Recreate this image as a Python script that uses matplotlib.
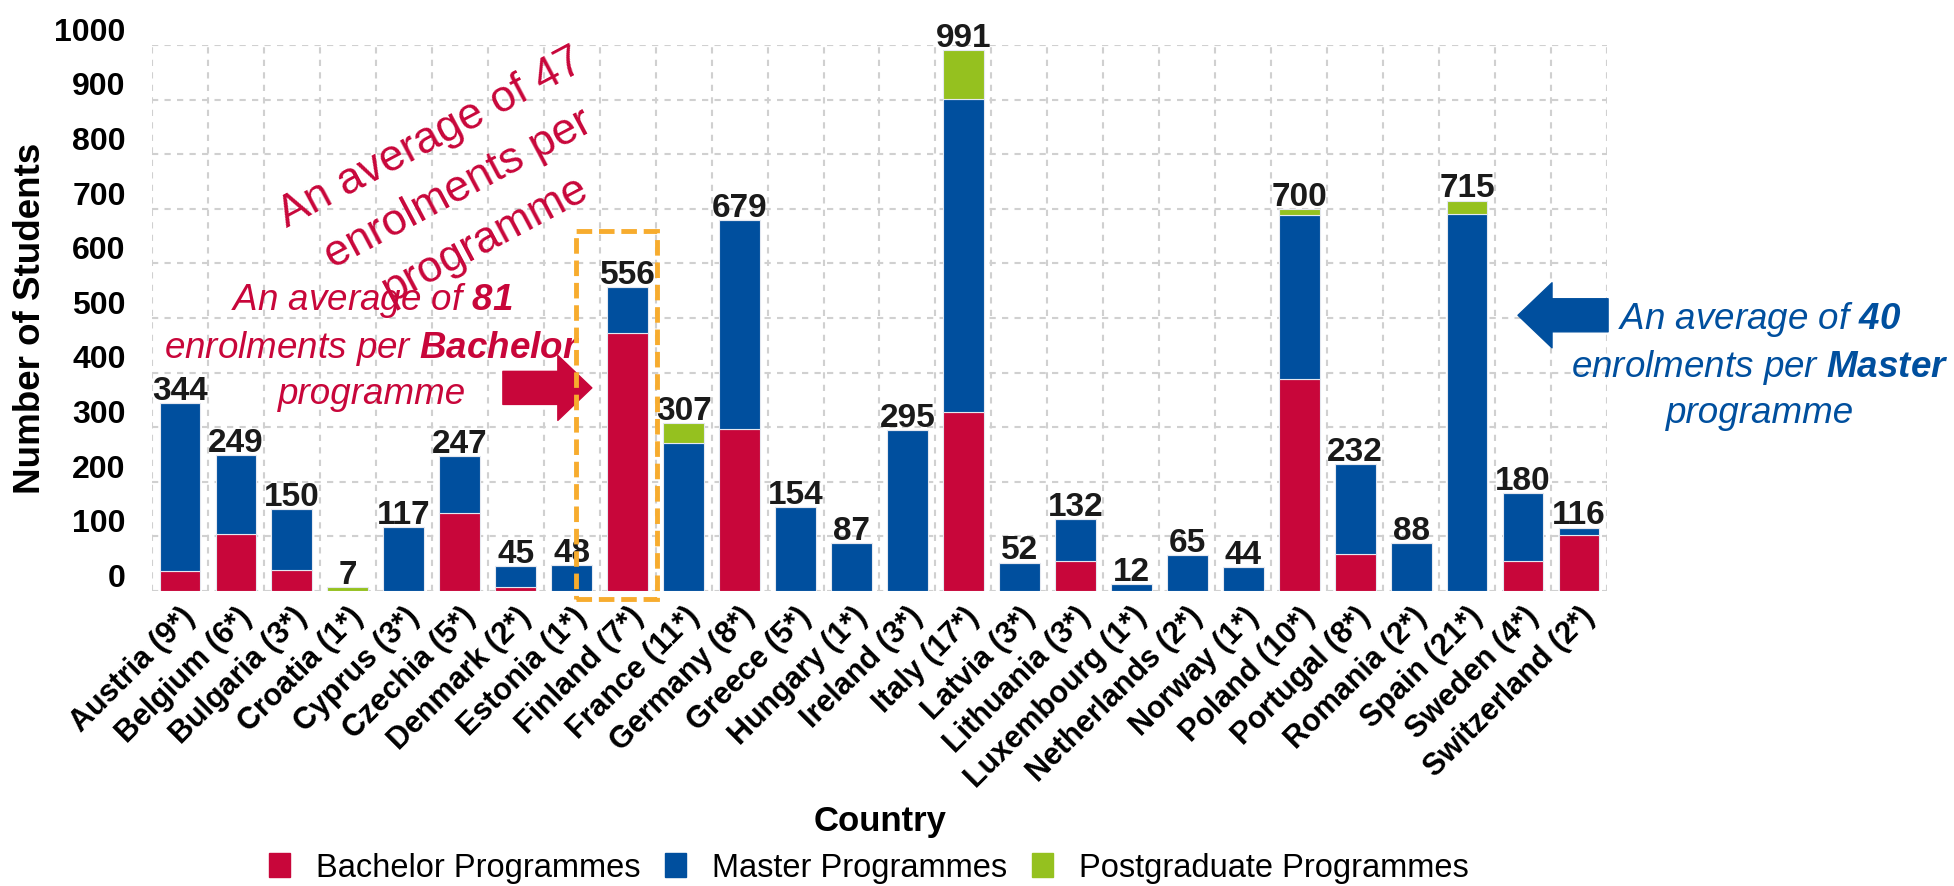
import matplotlib
matplotlib.use("Agg")
import matplotlib.pyplot as plt
import numpy as np
from matplotlib.patches import FancyArrowPatch, Rectangle, Patch
from matplotlib.transforms import ScaledTranslation

plt.rcParams['font.family'] = ['Liberation Sans', 'DejaVu Sans']
plt.rcParams['mathtext.fontset'] = 'custom'
plt.rcParams['mathtext.rm'] = 'Liberation Sans:italic'
plt.rcParams['mathtext.it'] = 'Liberation Sans:italic'
plt.rcParams['mathtext.bf'] = 'Liberation Sans:bold:italic'

# datos
countries = ["Austria (9*)", "Belgium (6*)", "Bulgaria (3*)", "Croatia (1*)", "Cyprus (3*)",
             "Czechia (5*)", "Denmark (2*)", "Estonia (1*)", "Finland (7*)", "France (11*)",
             "Germany (8*)", "Greece (5*)", "Hungary (1*)", "Ireland (3*)", "Italy (17*)",
             "Latvia (3*)", "Lithuania (3*)", "Luxembourg (1*)", "Netherlands (2*)", "Norway (1*)",
             "Poland (10*)", "Portugal (8*)", "Romania (2*)", "Spain (21*)", "Sweden (4*)",
             "Switzerland (2*)"]
bachelor = [36, 104, 39, 0, 0, 143, 8, 0, 472, 0, 296, 0, 0, 0, 327,
            0, 55, 0, 0, 0, 389, 67, 0, 0, 55, 102]
master = [308, 145, 111, 0, 117, 104, 37, 48, 84, 271, 383, 154, 87, 295, 575,
          52, 77, 12, 65, 44, 299, 165, 88, 690, 125, 14]
postgrad = [0, 0, 0, 7, 0, 0, 0, 0, 0, 36, 0, 0, 0, 0, 89,
            0, 0, 0, 0, 0, 12, 0, 0, 25, 0, 0]
totals = [344, 249, 150, 7, 117, 247, 45, 48, 556, 307, 679, 154, 87, 295, 991,
          52, 132, 12, 65, 44, 700, 232, 88, 715, 180, 116]

RED = '#C8063A'
BLUE = '#004F9E'
GREEN = '#95C11F'
ORANGE = '#F7AC2E'

fig = plt.figure(figsize=(19.54, 8.87), dpi=100)
ax = fig.add_axes([0.0778, 0.3326, 0.7446, 0.6155])

x = np.arange(len(countries))
b = np.array(bachelor)
m = np.array(master)
p = np.array(postgrad)
ax.bar(x, b, width=0.73, color=RED, edgecolor='#e4e8f0', linewidth=0.8, zorder=2)
ax.bar(x, m, width=0.73, bottom=b, color=BLUE, edgecolor='#e4e8f0', linewidth=0.8, zorder=2)
ax.bar(x, p, width=0.73, bottom=b + m, color=GREEN, edgecolor='#e4e8f0', linewidth=0.8, zorder=2)

for i, t in enumerate(totals):
    ax.annotate(str(t), xy=(i, t), xytext=(0, 3), textcoords='offset points',
                ha='center', va='baseline', fontsize=24, fontweight='bold', color='#1a1a1a')

ax.set_xlim(-0.5, len(countries) - 0.5)
ax.set_ylim(0, 1000)
ax.set_yticks(np.arange(0, 1001, 100))
ax.set_yticklabels([str(v) for v in range(0, 1001, 100)], fontsize=23, fontweight='bold')
ax.set_xticks(x)
ax.set_xticklabels(countries, rotation=45, ha='right', rotation_mode='anchor',
                   fontsize=22, fontweight='bold')
ax.set_xticks(np.arange(-0.5, len(countries)), minor=True)
ax.tick_params(axis='y', length=0, pad=19)
ax.tick_params(axis='x', which='both', length=0, pad=7)
ax.grid(axis='y', which='major', color='#d0d0d0', linestyle=(0, (3, 3)), linewidth=1.5, zorder=0)
ax.grid(axis='x', which='minor', color='#d0d0d0', linestyle=(0, (3, 3)), linewidth=1.5, zorder=0)
for s in ax.spines.values():
    s.set_visible(False)

# etiquetas del eje y un poco desplazadas hacia arriba
off = ScaledTranslation(0, 12 / 72, fig.dpi_scale_trans)
for lab in ax.get_yticklabels():
    lab.set_transform(lab.get_transform() + off)

fig.text(31 / 1954, 1 - 318 / 887, 'Number of Students', rotation=90, ha='center', va='center',
         fontsize=26.5, fontweight='bold')
fig.text(880 / 1954, 1 - 822 / 887, 'Country', ha='center', va='center',
         fontsize=25, fontweight='bold')

# anotaciones
ax.text(4.97, 738, 'An average of 47\nenrolments per\nprogramme', rotation=28,
        rotation_mode='anchor', ha='center', va='center', multialignment='center',
        fontsize=32, color=RED, linespacing=1.5, zorder=5)
ax.text(3.43, 450, 'An average of $\\mathbf{81}$\nenrolments per $\\mathbf{Bachelor}$\nprogramme',
        ha='center', va='center', multialignment='center', fontsize=26.5, fontstyle='italic',
        color=RED, linespacing=1.32, zorder=5)
ax.text(28.23, 415, 'An average of $\\mathbf{40}$\nenrolments per $\\mathbf{Master}$\nprogramme',
        ha='center', va='center', multialignment='center', fontsize=26.5, fontstyle='italic',
        color=BLUE, linespacing=1.32, zorder=5, clip_on=False)

red_arrow = FancyArrowPatch((5.77, 372), (7.36, 372),
                            arrowstyle='simple,head_length=24.5,head_width=46.8,tail_width=23.8',
                            mutation_scale=1, color=RED, shrinkA=0, shrinkB=0,
                            clip_on=False, zorder=6)
ax.add_patch(red_arrow)
blue_arrow = FancyArrowPatch((25.52, 505), (23.91, 505),
                             arrowstyle='simple,head_length=24.5,head_width=46.8,tail_width=23.8',
                             mutation_scale=1, color=BLUE, shrinkA=0, shrinkB=0,
                             clip_on=False, zorder=6)
ax.add_patch(blue_arrow)

rect = Rectangle((7.08, -15), 1.44, 674, fill=False, edgecolor=ORANGE, linewidth=3.5,
                 linestyle=(0, (3.2, 1.4)), clip_on=False, zorder=7)
ax.add_patch(rect)

handles = [Patch(color=RED, label='Bachelor Programmes'),
           Patch(color=BLUE, label='Master Programmes'),
           Patch(color=GREEN, label='Postgraduate Programmes')]
fig.legend(handles=handles, loc='center', bbox_to_anchor=(869 / 1954, 1 - 869 / 887), ncol=3,
           frameon=False, fontsize=23.5, handlelength=0.65, handleheight=0.75,
           handletextpad=0.8, columnspacing=0.75)

fig.savefig('out.png', dpi=100)
